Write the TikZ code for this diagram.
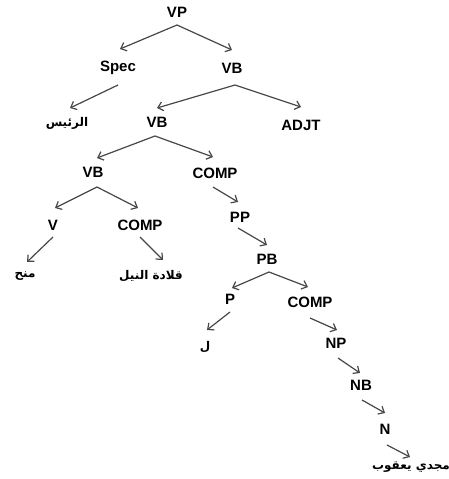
\documentclass[tikz,border=0pt]{standalone}
\usepackage{fontspec}
\setmainfont{Liberation Sans}
\newfontfamily\arabicfont[Script=Arabic]{DejaVu Sans}
\TeXXeTstate=1
\usetikzlibrary{arrows.meta}
\tikzset{
  lbl/.style={font=\bfseries\fontsize{15}{17}\selectfont, inner sep=0pt, text=black},
  ar/.style={font=\arabicfont\bfseries\fontsize{12}{14}\selectfont, inner sep=0pt, text=black},
  arr/.style={draw=black!72, line width=1.2pt, -{Straight Barb[length=5pt,width=9pt]}}
}
\begin{document}
\begin{tikzpicture}[x=1pt,y=-1pt]
\useasboundingbox (0,0) rectangle (449,479);
% labels
\node[lbl] (vp) at (177,12) {VP};
\node[lbl] (spec) at (118,68) {Spec};
\node[lbl] (vb1) at (232,68) {VB};
\node[ar] (rais) at (67,123) {\beginR الرئيس\endR};
\node[lbl] (vb2) at (157,122) {VB};
\node[lbl] (adjt) at (301,125) {ADJT};
\node[lbl] (vb3) at (93,172) {VB};
\node[lbl] (comp1) at (215,173) {COMP};
\node[lbl] (v) at (53,225) {V};
\node[lbl] (comp2) at (140,225) {COMP};
\node[lbl] (pp) at (240,217) {PP};
\node[ar] (manaha) at (25,276) {\beginR منح\endR};
\node[ar] (qilada) at (151,276) {\beginR قلادة النيل\endR};
\node[lbl] (pb) at (267,259) {PB};
\node[lbl] (p) at (230,299) {P};
\node[lbl] (comp3) at (310,302) {COMP};
\node[ar] (li) at (205,347) {\beginR ل\endR};
\node[lbl] (np) at (336,343) {NP};
\node[lbl] (nb) at (361,385) {NB};
\node[lbl] (n) at (385,429) {N};
\node[ar] (magdi) at (411,467) {\beginR مجدي يعقوب\endR};
% connectors
\draw[arr] ([shift={(0,13)}]vp.center) -- ([shift={(2,-19)}]spec.center);
\draw[arr] ([shift={(0,13)}]vp.center) -- ([shift={(0,-18)}]vb1.center);
\draw[arr] ([shift={(0,17)}]spec.center) -- ([shift={(3,-15)}]rais.center);
\draw[arr] ([shift={(3,17)}]vb1.center) -- ([shift={(0,-14)}]vb2.center);
\draw[arr] ([shift={(3,17)}]vb1.center) -- ([shift={(0,-18)}]adjt.center);
\draw[arr] ([shift={(-2,14)}]vb2.center) -- ([shift={(4,-14)}]vb3.center);
\draw[arr] ([shift={(-2,14)}]vb2.center) -- ([shift={(-2,-16)}]comp1.center);
\draw[arr] ([shift={(4,15)}]vb3.center) -- ([shift={(2,-17)}]v.center);
\draw[arr] ([shift={(4,15)}]vb3.center) -- ([shift={(-2,-17)}]comp2.center);
\draw[arr] ([shift={(0,12)}]v.center) -- ([shift={(2,-14)}]manaha.center);
\draw[arr] ([shift={(0,12)}]comp2.center) -- ([shift={(12,-16)}]qilada.center);
\draw[arr] ([shift={(-2,14)}]comp1.center) -- ([shift={(-2,-15)}]pp.center);
\draw[arr] ([shift={(-2,11)}]pp.center) -- ([shift={(0,-14)}]pb.center);
\draw[arr] ([shift={(2,13)}]pb.center) -- ([shift={(2,-11)}]p.center);
\draw[arr] ([shift={(2,13)}]pb.center) -- ([shift={(-2,-15)}]comp3.center);
\draw[arr] ([shift={(0,13)}]p.center) -- ([shift={(2,-17)}]li.center);
\draw[arr] ([shift={(0,16)}]comp3.center) -- ([shift={(1,-13)}]np.center);
\draw[arr] ([shift={(2,15)}]np.center) -- ([shift={(-1,-12)}]nb.center);
\draw[arr] ([shift={(1,15)}]nb.center) -- ([shift={(0,-16)}]n.center);
\draw[arr] ([shift={(2,16)}]n.center) -- ([shift={(-1,-10)}]magdi.center);
\end{tikzpicture}
\end{document}
